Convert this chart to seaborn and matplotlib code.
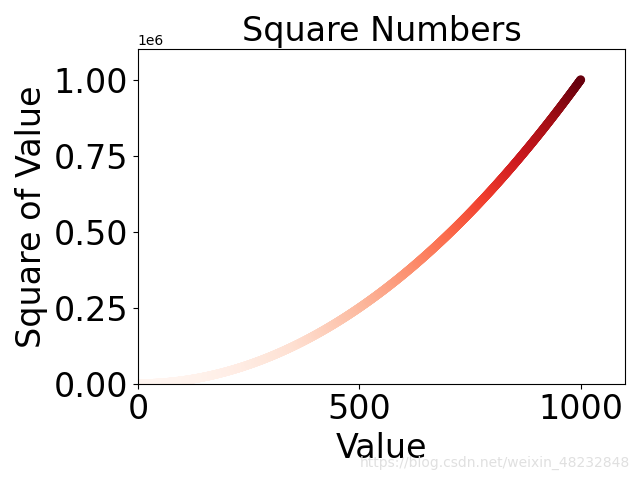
import matplotlib
matplotlib.use("Agg")
import matplotlib.pyplot as plt
import seaborn as sns
import pandas as pd

# data: integers 1..1000 and their squares
x_values = list(range(1, 1001))
y_values = [x ** 2 for x in x_values]

df = pd.DataFrame({"Value": x_values, "Square": y_values})

fig, ax = plt.subplots(figsize=(6.4, 4.8), dpi=100)
sns.scatterplot(data=df, x="Value", y="Square", hue="Square", palette="Reds",
                edgecolor="none", s=40, legend=False, ax=ax)

ax.set_title("Square Numbers", fontsize=24)
ax.set_xlabel("Value", fontsize=24)
ax.set_ylabel("Square of Value", fontsize=24)
ax.tick_params(axis="both", which="major", labelsize=24)
ax.axis([0, 1100, 0, 1100000])

plt.tight_layout()
fig.text(0.985, 0.035, "https://blog.csdn.net/weixin_48232848", ha="right",
         va="center", fontsize=10, color="#e0e0e0")
fig.savefig("out.png", dpi=100)
